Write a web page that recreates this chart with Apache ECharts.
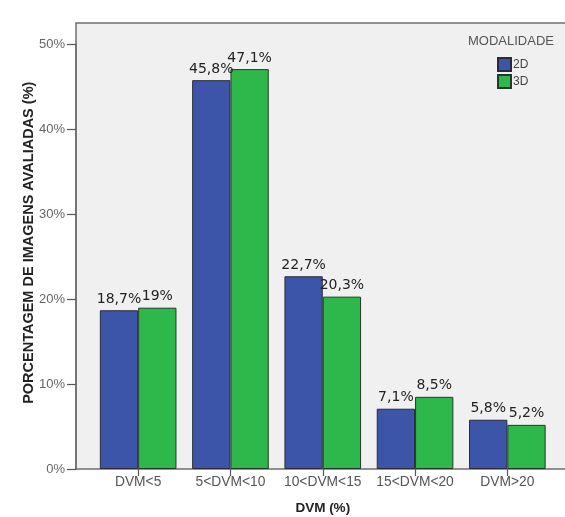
<!DOCTYPE html>
<html><head><meta charset="utf-8">
<script src="https://cdn.jsdelivr.net/npm/echarts@6/dist/echarts.min.js"></script>
<style>html,body{margin:0;padding:0;background:#fff}#c{width:565px;height:517px}</style>
</head><body><div id="c"></div>
<script>
var categories = ['DVM<5', '5<DVM<10', '10<DVM<15', '15<DVM<20', 'DVM>20'];
var values2D = [18.7, 45.8, 22.7, 7.1, 5.8];
var values3D = [19, 47.1, 20.3, 8.5, 5.2];
var seriesNames = ['2D', '3D'];
var yTicks = [0, 10, 20, 30, 40, 50];

var chart = echarts.init(document.getElementById('c'));
function fmt(v){ return String(v).replace('.', ',') + '%'; }
var labelCfg = {
  show: true, position: 'top', distance: 4,
  fontFamily: 'DejaVu Sans', fontSize: 14, color: '#222',
  formatter: function(p){ return fmt(p.value); }
};
chart.setOption({
  animation: false,
  backgroundColor: '#fff',
  title: {
    text: 'MODALIDADE', left: 463, top: 30,
    textStyle: { fontFamily: 'Liberation Sans', fontSize: 13, fontWeight: 'normal', color: '#555' }
  },
  legend: {
    orient: 'vertical', left: 492, top: 52, itemWidth: 13, itemHeight: 13, itemGap: 2,
    icon: 'rect',
    textStyle: { fontFamily: 'Liberation Sans', fontSize: 12, color: '#444', padding: [0,0,0,-3] },
    data: seriesNames
  },
  graphic: [{
    type: 'rect', z: -10, silent: true,
    shape: { x: 76, y: 23, width: 520, height: 446 },
    style: { fill: '#f0f0f0', stroke: '#6e6e6e', lineWidth: 1.5 }
  }],
  grid: { left: 92, right: 11.5, top: 44.5, bottom: 48, containLabel: false, outerBoundsMode: 'none' },
  xAxis: {
    type: 'category', data: categories,
    axisLine: { show: false },
    axisTick: { show: true, alignWithLabel: true, length: 7, lineStyle: { color: '#555', width: 1.2 } },
    axisLabel: { interval: 0, fontFamily: 'Liberation Sans', fontSize: 13.8, color: '#555', margin: 6 },
    name: 'DVM (%)', nameLocation: 'middle', nameGap: 32, nameMoveOverlap: false,
    nameTextStyle: { fontFamily: 'Liberation Sans', fontSize: 13.5, fontWeight: 'bold', color: '#222' }
  },
  yAxis: {
    type: 'value', min: 0, max: 50, interval: 10, offset: 16,
    axisLine: { show: true, lineStyle: { color: '#6e6e6e', width: 1.5 } },
    axisTick: { show: true, length: 9, lineStyle: { color: '#555', width: 1.2 } },
    splitLine: { show: false },
    axisLabel: { fontFamily: 'Liberation Sans', fontSize: 13, color: '#666', margin: 11,
      formatter: function(v){ return yTicks.indexOf(v) >= 0 ? v + '%' : ''; } },
    name: 'PORCENTAGEM DE IMAGENS AVALIADAS (%)', nameLocation: 'middle', nameGap: 40, nameMoveOverlap: false,
    nameTextStyle: { fontFamily: 'Liberation Sans', fontSize: 14.5, fontWeight: 'bold', color: '#222', padding: [0,0,0,28] }
  },
  series: [
    { name: seriesNames[0], type: 'bar', data: values2D, barGap: '0%', barCategoryGap: '17%',
      itemStyle: { color: '#3D55A9', borderColor: '#2a2a3a', borderWidth: 1 }, label: labelCfg },
    { name: seriesNames[1], type: 'bar', data: values3D,
      itemStyle: { color: '#2EB84B', borderColor: '#233a28', borderWidth: 1 }, label: labelCfg }
  ]
});
</script></body></html>
